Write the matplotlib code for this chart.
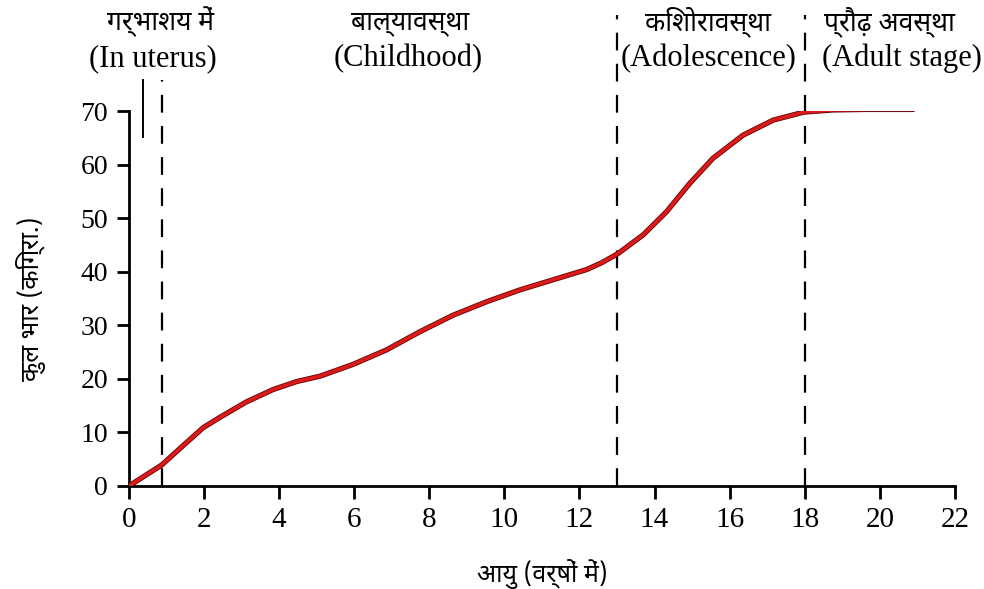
import matplotlib.pyplot as plt

# age (years) vs total body weight (kg)
age = [0, 0.87, 1.36, 1.98, 2.42, 3.13, 3.84, 4.47, 5.09, 5.97, 6.86, 7.75, 8.64,
       9.53, 10.41, 11.30, 12.19, 12.60, 13.03, 13.70, 14.32, 14.94, 15.56, 16.36,
       17.16, 17.98, 18.76, 19.65, 20.89]
weight = [0, 3.9, 7.0, 10.9, 12.8, 15.7, 18.0, 19.5, 20.5, 22.7, 25.4, 28.8, 31.9,
          34.4, 36.6, 38.5, 40.4, 41.7, 43.4, 46.9, 51.2, 56.5, 61.2, 65.5,
          68.3, 69.8, 70.2, 70.3, 70.3]

stage_lines = [0.88, 13.0, 18.0]
stage_hindi = ['गर्भाशय में', 'बाल्यावस्था', 'किशोरावस्था', 'प्रौढ़ अवस्था']
stage_english = ['(In uterus)', '(Childhood)', '(Adolescence)', '(Adult stage)']
hindi_pos = [0.83, 7.48, 15.42, 20.27]
english_pos = [0.64, 7.43, 15.45, 20.59]

xticks = list(range(0, 23, 2))
yticks = list(range(0, 71, 10))

serif = ['Liberation Serif', 'DejaVu Serif']
hindi = ['Noto Sans Devanagari', 'Lohit Devanagari', 'Noto Sans', 'DejaVu Sans']

fig = plt.figure(figsize=(9.84, 5.89), dpi=100)
ax = fig.add_axes([0.131, 0.1749, 0.8394, 0.6366])

ax.plot(age, weight, color='#6a0808', lw=3.8, solid_capstyle='round',
        solid_joinstyle='round', zorder=3)
ax.plot(age, weight, color='#dc1a1a', lw=2.5, solid_capstyle='round',
        solid_joinstyle='round', zorder=4)

ax.set_xlim(0, 22)
ax.set_ylim(0, 70)
for s in ['top', 'right']:
    ax.spines[s].set_visible(False)
for s in ['left', 'bottom']:
    ax.spines[s].set_linewidth(2)

ax.set_xticks(xticks)
ax.set_yticks(yticks)
ax.tick_params(axis='both', direction='out', width=2, length=9, pad=6)
ax.set_xticklabels([str(t) for t in xticks], family=serif, fontsize=21)
ax.set_yticklabels([str(t) for t in yticks], family=serif, fontsize=20)

# stage separators
dash = (0, (8, 6))
ax.plot([stage_lines[0]] * 2, [0, 75.8], ls=dash, color='black', lw=1.6, clip_on=False)
for xv in stage_lines[1:]:
    ax.plot([xv, xv], [0, 88], ls=dash, color='black', lw=1.6, clip_on=False)
ax.plot([0.37, 0.37], [65.1, 75.8], color='black', lw=1.4, clip_on=False)

for xp, h in zip(hindi_pos, stage_hindi):
    ax.text(xp, 86.6, h, ha='center', va='center', family=hindi, fontsize=19, clip_on=False)
for xp, e in zip(english_pos, stage_english):
    ax.text(xp, 79.8, e, ha='center', va='center', family=serif, fontsize=22, clip_on=False)

ax.set_xlabel('आयु (वर्षों में)', family=hindi, fontsize=18, labelpad=19)
ax.set_ylabel('कुल भार (किग्रा.)', family=hindi, fontsize=18, labelpad=25)

fig.savefig('out.png', dpi=100)
